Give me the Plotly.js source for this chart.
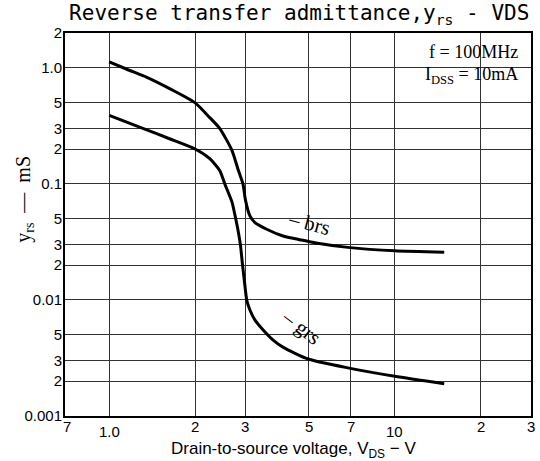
<!DOCTYPE html>
<html>
<head>
<meta charset="utf-8">
<script src="https://cdn.plot.ly/plotly-3.0.1.min.js"></script>
<style>html,body{margin:0;padding:0;background:#fff;}#chart{width:540px;height:461px;}</style>
</head>
<body>
<div id="chart"></div>
<script>
// ---- data ----
const vdsB = [1.0, 1.153, 1.355, 1.634, 2.0, 2.25, 2.44, 2.69, 2.83, 2.94, 3.0, 3.11, 3.24, 3.56, 4.06, 4.65, 5.3, 6.85, 10, 14.9];
const brs  = [1.13, 0.974, 0.83, 0.66, 0.5, 0.373, 0.3, 0.195, 0.132, 0.1, 0.0726, 0.053, 0.0464, 0.0407, 0.0356, 0.0331, 0.031, 0.0284, 0.0265, 0.0258];

const vdsG = [1.0, 1.318, 1.634, 2.0, 2.25, 2.44, 2.54, 2.69, 2.76, 2.83, 2.88, 2.93, 2.99, 3.03, 3.11, 3.24, 3.46, 3.75, 4.07, 4.97, 6.85, 10, 14.9];
const grs  = [0.39, 0.3, 0.244, 0.2, 0.165, 0.13, 0.1, 0.07, 0.053, 0.039, 0.03, 0.02, 0.013, 0.01, 0.0082, 0.0067, 0.0055, 0.0045, 0.0039, 0.0031, 0.0026, 0.0022, 0.0019];

const xTickVals = [0.7, 1, 2, 3, 5, 7, 10, 20, 30];
const xTickText = ['7', '1.0', '2', '3', '5', '7', '10', '2', '3'];
const yTickVals = [0.001, 0.002, 0.003, 0.005, 0.01, 0.02, 0.03, 0.05, 0.1, 0.2, 0.3, 0.5, 1, 2];
const yTickText = ['0.001', '2', '3', '5', '0.01', '2', '3', '5', '0.1', '2', '3', '5', '1.0', '2'];

const curveLabels = [
  {text: '\u2013 brs', x: 5.0, y: 0.046, angle: 15},
  {text: '\u2013 grs', x: 4.7, y: 0.0058, angle: 38}
];
const condText = ['f = 100MHz', 'I<sub>DSS</sub> = 10mA'];

// ---- build ----
const lineStyle = {color: '#000', width: 3, shape: 'spline', smoothing: 0.6};
const traces = [
  {x: vdsB, y: brs, mode: 'lines', line: lineStyle, hoverinfo: 'skip'},
  {x: vdsG, y: grs, mode: 'lines', line: lineStyle, hoverinfo: 'skip'}
];

const annotations = [];
xTickVals.forEach((v, i) => {
  const isDecade = Math.abs(Math.log10(v) - Math.round(Math.log10(v))) < 1e-9;
  annotations.push({
    x: Math.log10(v), y: 0, xref: 'x', yref: 'paper',
    text: xTickText[i], showarrow: false,
    xanchor: 'center', yanchor: 'top',
    xshift: i === 0 ? 2 : 0,
    yshift: isDecade ? -5 : 0,
    font: {family: 'Liberation Sans, Arial, sans-serif', size: 15, color: '#000'}
  });
});
curveLabels.forEach(c => {
  annotations.push({
    x: Math.log10(c.x), y: Math.log10(c.y), xref: 'x', yref: 'y',
    text: c.text, showarrow: false, textangle: c.angle,
    font: {family: 'Liberation Serif, DejaVu Serif, serif', size: 21, color: '#000'}
  });
});
condText.forEach((t, i) => {
  annotations.push({
    x: 0.977, y: 0.982 - i * 0.058, xref: 'paper', yref: 'paper',
    text: t, showarrow: false, xanchor: 'right', yanchor: 'top',
    font: {family: 'Liberation Serif, DejaVu Serif, serif', size: 18, color: '#000'}
  });
});
// y-axis title
annotations.push({
  x: -0.086, y: 0.567, xref: 'paper', yref: 'paper',
  xanchor: 'center', yanchor: 'middle',
  text: 'y<sub>rs</sub>  \u2014  mS', showarrow: false, textangle: -90,
  font: {family: 'Liberation Serif, DejaVu Serif, serif', size: 20, color: '#000'}
});
// x-axis title
annotations.push({
  x: 0.49, y: -0.055, xref: 'paper', yref: 'paper',
  text: 'Drain-to-source voltage, V<sub>DS</sub> \u2212 V', showarrow: false,
  xanchor: 'center', yanchor: 'top',
  font: {family: 'Liberation Sans, Arial, sans-serif', size: 17, color: '#000'}
});

const layout = {
  width: 540, height: 461,
  margin: {l: 65, r: 9, t: 33, b: 45},
  paper_bgcolor: '#fff', plot_bgcolor: '#fff',
  showlegend: false,
  title: {
    text: 'Reverse transfer admittance,y<sub>rs</sub> - VDS',
    x: 0.128, xanchor: 'left', xref: 'container',
    y: 0.972, yanchor: 'middle', yref: 'container',
    font: {family: 'DejaVu Sans Mono, monospace', size: 21, color: '#000'}
  },
  xaxis: {
    type: 'log', range: [Math.log10(0.7), Math.log10(30)],
    tickvals: xTickVals, showticklabels: false, ticks: '',
    showgrid: true, gridcolor: '#333', gridwidth: 1,
    showline: true, linecolor: '#000', linewidth: 2, mirror: true,
    zeroline: false, fixedrange: true
  },
  yaxis: {
    type: 'log', range: [Math.log10(0.001), Math.log10(2)],
    tickvals: yTickVals, ticktext: yTickText, ticks: '',
    ticklabelstandoff: -2,
    tickfont: {family: 'Liberation Sans, Arial, sans-serif', size: 15, color: '#000'},
    showgrid: true, gridcolor: '#333', gridwidth: 1,
    showline: true, linecolor: '#000', linewidth: 2, mirror: true,
    zeroline: false, fixedrange: true
  },
  annotations: annotations
};

Plotly.newPlot('chart', traces, layout, {staticPlot: true, displayModeBar: false});
</script>
</body>
</html>
